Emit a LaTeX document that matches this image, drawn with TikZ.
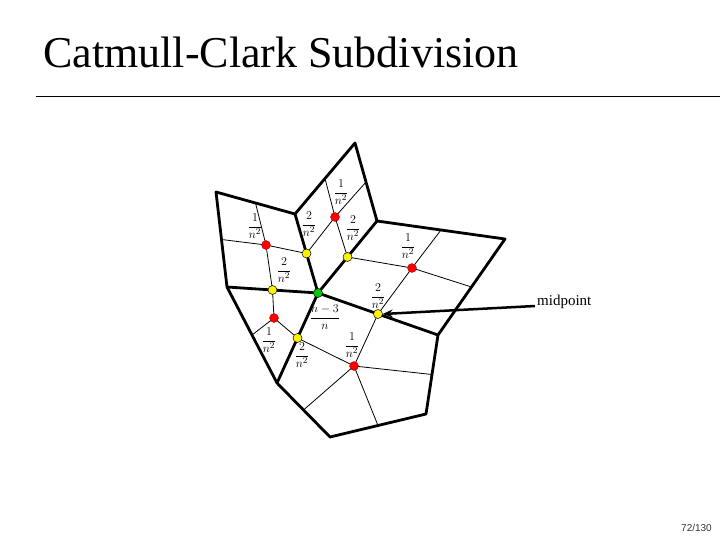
\documentclass[tikz,border=0pt]{standalone}
\usepackage{fontspec}
\setmainfont{Liberation Serif}
\setsansfont{Liberation Sans}
\usetikzlibrary{calc,arrows.meta}
\begin{document}
\begin{tikzpicture}[x=1pt,y=-1pt,
  thick edge/.style={line width=2.8pt,line join=round},
  thin edge/.style={line width=0.8pt},
  fp/.style={circle,fill=red,draw=red!60!black,line width=0.3pt,inner sep=0pt,minimum size=9pt},
  ep/.style={circle,fill=yellow,draw=black,line width=0.5pt,inner sep=0pt,minimum size=9pt},
  vp/.style={circle,fill=green!80!black,draw=black,line width=0.5pt,inner sep=0pt,minimum size=9pt},
  lab/.style={font=\fontsize{12.5}{13}\selectfont,inner sep=0pt}]
\useasboundingbox (0,0) rectangle (720,540);
\node[anchor=base west,font=\fontsize{44}{48}\selectfont,inner sep=0pt] (title) at (43,68) {Catmull-Clark Subdivision};
\coordinate (l1) at (36,96); \coordinate (l2) at (720,96);
\draw[line width=0.8pt] (l1) -- (l2);
\coordinate (A) at (216,192); \coordinate (B) at (295,214); \coordinate (C) at (355,143);
\coordinate (D) at (377,221); \coordinate (E) at (505,239); \coordinate (F) at (438,335);
\coordinate (G) at (426,414); \coordinate (H) at (330,437); \coordinate (I) at (277,383);
\coordinate (J) at (227,287); \coordinate (O) at (318,293);
% face points
\coordinate (f1) at (266,245); \coordinate (f2) at (335,217); \coordinate (f3) at (412,268);
\coordinate (f4) at (354,366); \coordinate (f5) at (274,318);
% thin lines
\foreach \f/\a/\b in {f1/A/B,f1/B/O,f1/O/J,f1/J/A,
  f2/B/C,f2/C/D,f2/D/O,f2/O/B,
  f3/D/E,f3/E/F,f3/F/O,f3/O/D,
  f4/F/G,f4/G/H,f4/H/I,f4/I/O,f4/O/F,
  f5/J/O,f5/O/I,f5/I/J}
  \draw[thin edge] (\f) -- ($(\a)!0.5!(\b)$);
\draw[thick edge] (A) -- (B) -- (C) -- (D) -- (E) -- (F) -- (G) -- (H) -- (I) -- (J) -- cycle;
\draw[thick edge] (B) -- (O) -- (D) (F) -- (O) -- (J) (O) -- (I);
\foreach \f in {f1,f2,f3,f4,f5} \node[fp] (n\f) at (\f) {};
\node[ep] (mB) at ($(O)!0.5!(B)$) {};
\node[ep] (mD) at ($(O)!0.5!(D)$) {};
\node[ep] (mF) at ($(O)!0.5!(F)$) {};
\node[ep] (mI) at ($(O)!0.5!(I)$) {};
\node[ep] (mJ) at ($(O)!0.5!(J)$) {};
\node[vp] (nO) at (O) {};
% labels
\node[lab] (t1) at (255,226) {$\displaystyle\frac{1}{n^2}$};
\node[lab] (t2) at (309,224) {$\displaystyle\frac{2}{n^2}$};
\node[lab] (t3) at (341,192) {$\displaystyle\frac{1}{n^2}$};
\node[lab] (t4) at (353,228) {$\displaystyle\frac{2}{n^2}$};
\node[lab] (t5) at (408,246) {$\displaystyle\frac{1}{n^2}$};
\node[lab] (t6) at (284,270) {$\displaystyle\frac{2}{n^2}$};
\node[lab] (t7) at (378,296) {$\displaystyle\frac{2}{n^2}$};
\node[lab] (t8) at (325,317) {$\displaystyle\frac{n-3}{n}$};
\node[lab] (t9) at (352,345) {$\displaystyle\frac{1}{n^2}$};
\node[lab] (t10) at (269,340) {$\displaystyle\frac{1}{n^2}$};
\node[lab] (t11) at (302,355) {$\displaystyle\frac{2}{n^2}$};
\node[anchor=west,font=\fontsize{15}{17}\selectfont,inner sep=0pt] (mp) at (537,302) {midpoint};
\coordinate (as) at (535,306);
\draw[line width=2.5pt,-{Stealth[length=10pt,width=8pt]}] (as) -- (mF.east);
\node[anchor=base east,font=\sffamily\fontsize{10}{12}\selectfont,inner sep=0pt,text=black!80] (pg) at (712,531) {72/130};
\end{tikzpicture}
\end{document}
